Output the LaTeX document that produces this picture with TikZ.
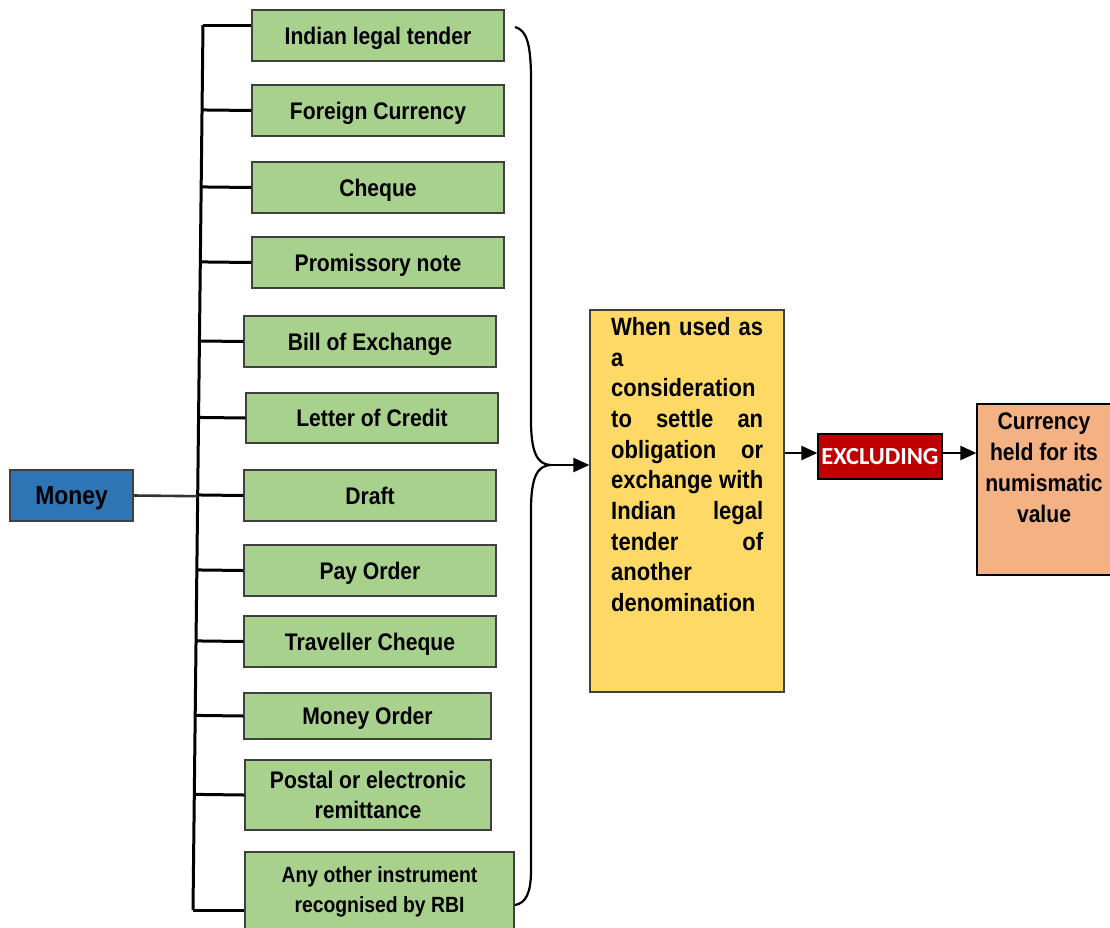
\documentclass[tikz,border=0pt]{standalone}
\usepackage{fontspec}
\setmainfont{Liberation Sans}
\newfontfamily\nb{Liberation Sans}[FakeStretch=0.88]
\newfontfamily\cb{Carlito}
\usetikzlibrary{arrows.meta,calc}
\definecolor{gfill}{HTML}{A9D18E}
\definecolor{bfill}{HTML}{2E75B6}
\definecolor{yfill}{HTML}{FFD966}
\definecolor{ofill}{HTML}{F4B183}
\definecolor{rfill}{HTML}{C00000}
\definecolor{edge}{HTML}{404040}
\tikzset{
  gbox/.style={draw=edge, line width=1.2pt, fill=gfill, inner sep=0pt, align=center,
    font=\nb\bfseries\fontsize{24}{30}\selectfont},
  oneline/.style={text height=17.2pt, text depth=0pt},
  branch/.style={line width=3pt, black},
  conn/.style={line width=2.2pt, black, -{Triangle[length=16pt,width=14pt]}},
}
\begin{document}
\begin{tikzpicture}[x=1pt,y=-1pt]
\useasboundingbox (0,0) rectangle (1110,927);
\clip (0,0) rectangle (1110,927);
% green boxes
\node[gbox, oneline, minimum width=252pt, minimum height=51pt] (b1) at (378,35.5) {Indian legal tender};
\node[gbox, oneline, minimum width=252pt, minimum height=51pt] (b2) at (378,110.5) {Foreign Currency};
\node[gbox, oneline, minimum width=252pt, minimum height=51pt] (b3) at (378,187.5) {Cheque};
\node[gbox, oneline, minimum width=252pt, minimum height=51pt] (b4) at (378,262.5) {Promissory note};
\node[gbox, oneline, minimum width=252pt, minimum height=51pt] (b5) at (370,341.5) {Bill of Exchange};
\node[gbox, oneline, minimum width=252pt, minimum height=50pt] (b6) at (372,418) {Letter of Credit};
\node[gbox, oneline, minimum width=252pt, minimum height=51pt] (b7) at (370,495.5) {Draft};
\node[gbox, oneline, minimum width=252pt, minimum height=51pt] (b8) at (370,570.5) {Pay Order};
\node[gbox, oneline, minimum width=252pt, minimum height=51pt] (b9) at (370,641.5) {Traveller Cheque};
\node[gbox, oneline, minimum width=247pt, minimum height=46pt] (b10) at (367.5,716) {Money Order};
\node[gbox, minimum width=246pt, minimum height=70pt] (b11) at (368,795) {\rule{0pt}{2pt}Postal or electronic\\remittance};
\node[gbox, minimum width=269pt, minimum height=80pt, font=\nb\bfseries\fontsize{22}{30}\selectfont] (b12) at (379.5,892) {\rule{0pt}{2pt}Any other instrument\\recognised by RBI};
% money
\node[draw=edge, line width=1.2pt, fill=bfill, inner sep=0pt, minimum width=123pt, minimum height=51pt,
  text height=18.6pt, text depth=0pt,
  font=\nb\bfseries\fontsize{26}{30}\selectfont] (money) at (71.5,495.5) {Money};
% trunk
\coordinate (tt) at (203,25);
\coordinate (tb) at (193,910);
\draw[branch] (tt) -- (tb);
\draw[branch] (tt) -- (tt -| b1.west);
\foreach \b in {b2,b3,b4,b5,b6,b7,b8,b9,b10,b11}{
  \draw[branch] ($(tt)!(\b.west)!(tb)$) -- (\b.west);
}
\draw[branch] (tb) -- (tb -| b12.west);
\draw[line width=2.6pt, black!80] (money.east) -- ($(tt)!(money.east)!(tb)$);
% brace
\coordinate (tip) at (550,465);
\draw[line width=2.2pt] (515,27) .. controls (527,30) and (531,45) .. (531,80) -- (531,420)
  .. controls (531,452) and (537,464) .. (tip)
  .. controls (537,466) and (531,478) .. (531,510) -- (531,870)
  .. controls (531,893) and (526,903) .. (515,905);
% yellow
\node[draw=edge, line width=1.2pt, fill=yfill, inner sep=0pt, minimum width=194pt, minimum height=382pt] (yel) at (687,501) {};
\node[anchor=north west, inner sep=0pt, align=left, font=\nb\bfseries\fontsize{25}{30.7}\selectfont] (ytext) at (611,317)
{\makebox[152pt][s]{When used as}\\ a\\ consideration\\ \makebox[152pt][s]{to settle an}\\ \makebox[152pt][s]{obligation or}\\
 \makebox[152pt][s]{exchange with}\\ \makebox[152pt][s]{Indian legal}\\ \makebox[152pt][s]{tender of}\\ another\\ denomination};
\draw[conn] (tip) -- (tip -| yel.west);
% excluding
\node[draw=black, line width=1.2pt, fill=rfill, inner sep=0pt, minimum width=124pt, minimum height=45pt,
  text=white, font=\cb\bfseries\fontsize{24.5}{28}\selectfont] (excl) at (880,456.5) {EXCLUDING};
\node[draw=black, line width=1.2pt, fill=ofill, inner sep=0pt, minimum width=136pt, minimum height=171pt] (orng) at (1045,489.5) {};
\node[anchor=north, inner sep=0pt, align=center, font=\nb\bfseries\fontsize{24}{31}\selectfont] (otext) at (1044,413)
{Currency\\held for its\\numismatic\\value};
\draw[conn] (yel.east |- 0,453) -- (excl.west |- 0,453);
\draw[conn] (excl.east |- 0,453) -- (orng.west |- 0,453);
\end{tikzpicture}
\end{document}
